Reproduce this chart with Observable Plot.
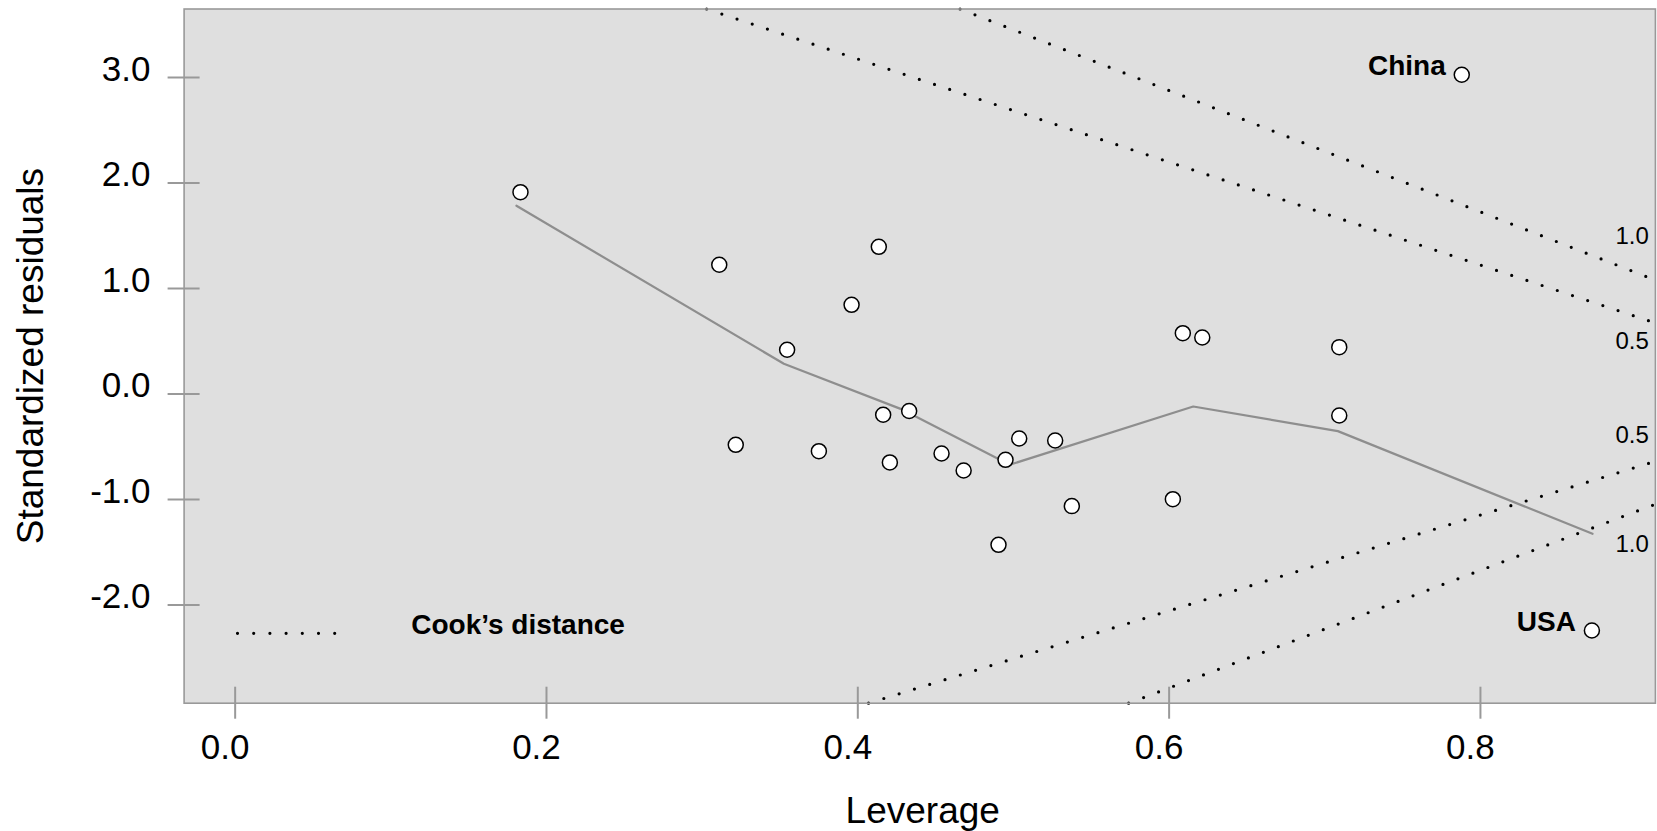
<!DOCTYPE html>
<html>
<head>
<meta charset="utf-8">
<script src="https://cdn.jsdelivr.net/npm/d3@7"></script>
<script src="https://cdn.jsdelivr.net/npm/@observablehq/plot@0.6"></script>
<style>
  html, body { margin: 0; padding: 0; background: #fff; }
  #chart svg { display: block; }
</style>
</head>
<body>
<div id="chart"></div>
<script>
// ---- data ----
const leverage  = [0.1833, 0.311, 0.4135, 0.396, 0.3546, 0.4163, 0.433, 0.3216, 0.375, 0.4206, 0.4538, 0.468,
                   0.4949, 0.5037, 0.5268, 0.5375, 0.6024, 0.4904, 0.6088, 0.6213, 0.7093, 0.7093, 0.788, 0.8716];
const residuals = [1.914, 1.226, 1.396, 0.846, 0.42, -0.196, -0.16, -0.481, -0.541, -0.648, -0.563, -0.724,
                   -0.623, -0.421, -0.44, -1.062, -0.996, -1.429, 0.577, 0.536, 0.445, -0.203, 3.027, -2.241];
const countryLabels = ["", "", "", "", "", "", "", "", "", "", "", "",
                       "", "", "", "", "", "", "", "", "", "", "China", "USA"];

// smoother through the residuals
const smoothLev = [0.1807, 0.3525, 0.4275, 0.4976, 0.6155, 0.7084, 0.872];
const smoothRes = [1.785, 0.287, -0.14, -0.67, -0.118, -0.351, -1.324];

// Cook's distance contours (as drawn: straight dotted lines)
const cookLevel     = ["0.5", "1.0", "0.5", "1.0"];
const cookLevStart  = [0.3029, 0.4657, 0.4069, 0.574];
const cookResStart  = [3.65, 3.65, -2.93, -2.93];
const cookLevEnd    = [0.9124, 0.9124, 0.9124, 0.9124];
const cookResEnd    = [0.674, 1.080, -0.637, -1.044];
const cookLabelRes  = [0.502, 1.498, -0.389, -1.426];

// axes
const xTickValues = [0, 0.2, 0.4, 0.6, 0.8];
const xTickLabels = ["0.0", "0.2", "0.4", "0.6", "0.8"];
const yTickValues = [-2, -1, 0, 1, 2, 3];
const yTickLabels = ["-2.0", "-1.0", "0.0", "1.0", "2.0", "3.0"];
const xDomain = [-0.0328, 0.9124];
const yDomain = [-2.93, 3.65];

// ---- build ----
const FONT = '"Liberation Sans", Arial, Helvetica, sans-serif';
const points = leverage.map((x, i) => ({x, y: residuals[i], name: countryLabels[i]}));
const smooth = smoothLev.map((x, i) => ({x, y: smoothRes[i]}));
const cook = cookLevel.map((lvl, i) => ({
  lvl, x1: cookLevStart[i], y1: cookResStart[i], x2: cookLevEnd[i], y2: cookResEnd[i], ly: cookLabelRes[i]
}));

const GRAY = "#999999";

const plot = Plot.plot({
  width: 1657,
  height: 831,
  marginLeft: 183.6,
  marginRight: 2.1,
  marginTop: 8.5,
  marginBottom: 128.3,
  style: {fontFamily: FONT, background: "#fff", color: "#000", overflow: "visible"},
  x: {domain: xDomain, axis: null},
  y: {domain: yDomain, axis: null},
  marks: [
    Plot.frame({fill: "#dfdfdf", stroke: "none"}),
    Plot.link(cook, {
      x1: "x1", y1: "y1", x2: "x2", y2: "y2",
      stroke: "#000", strokeWidth: 3.2, strokeDasharray: "0,16", strokeLinecap: "round"
    }),
    Plot.text(cook, {
      x: "x2", y: "ly", text: "lvl", textAnchor: "end", dx: -6.6, fontSize: 24, fill: "#000"
    }),
    Plot.line(smooth, {x: "x", y: "y", stroke: "#8e8e8e", strokeWidth: 2.2}),
    Plot.dot(points, {x: "x", y: "y", r: 7.5, fill: "#fff", stroke: "#000", strokeWidth: 1.5}),
    Plot.text(points.filter(d => d.name), {
      x: "x", y: "y", text: "name", textAnchor: "end", lineAnchor: "bottom",
      dx: -16, fontSize: 28, fontWeight: "bold", fill: "#000"
    }),
    Plot.frame({stroke: GRAY, strokeWidth: 1.6}),
    Plot.axisY({ticks: yTickValues, tickSize: 32, dx: 16, fill: "none", label: null, stroke: GRAY, strokeWidth: 2}),
    Plot.axisX({ticks: xTickValues, tickSize: 32, dy: -16, fill: "none", label: null, stroke: GRAY, strokeWidth: 2}),
    Plot.text(yTickValues, {
      y: d => d, text: (d, i) => yTickLabels[i], frameAnchor: "left", textAnchor: "end",
      lineAnchor: "bottom", dx: -33.6, dy: 3, fontSize: 35, fill: "#000"
    }),
    Plot.text(xTickValues, {
      x: d => d, text: (d, i) => xTickLabels[i], frameAnchor: "bottom", textAnchor: "middle",
      lineAnchor: "bottom", dx: -10, dy: 55.3, fontSize: 35, fill: "#000"
    }),
    Plot.text(["Leverage"], {
      frameAnchor: "bottom", textAnchor: "middle", lineAnchor: "bottom", dx: 3, dy: 119.3, fontSize: 37, fill: "#000"
    }),
    Plot.text(["Standardized residuals"], {
      frameAnchor: "left", textAnchor: "middle", lineAnchor: "middle", rotate: -90,
      dx: -153, fontSize: 37, fill: "#000"
    }),
    Plot.text(["Cook’s distance"], {
      frameAnchor: "bottom-left", textAnchor: "start", lineAnchor: "bottom",
      dx: 227.1, dy: -69.7, fontSize: 28, fontWeight: "bold", fill: "#000"
    })
  ]
});

// legend sample of the dotted Cook's distance line
d3.select(plot).append("line")
  .attr("x1", 237.5).attr("x2", 335.5)
  .attr("y1", 633.3).attr("y2", 633.3)
  .attr("stroke", "#000").attr("stroke-width", 3.2)
  .attr("stroke-dasharray", "0,16.2").attr("stroke-linecap", "round");

document.getElementById("chart").appendChild(plot);
</script>
</body>
</html>
